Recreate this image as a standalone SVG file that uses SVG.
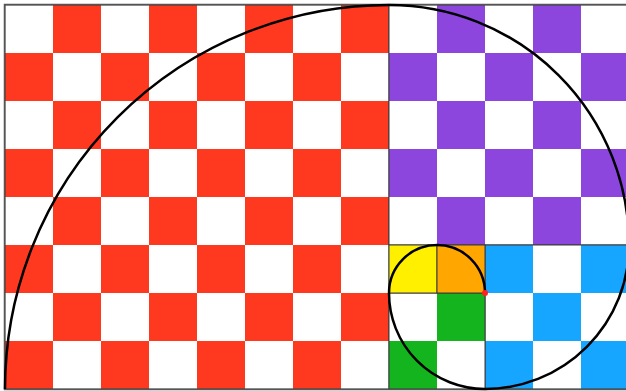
<svg xmlns="http://www.w3.org/2000/svg" width="626" height="391" viewBox="0 0 626 391">
  <defs>
    <pattern id="pRed" patternUnits="userSpaceOnUse" x="5" y="5" width="96" height="96">
      <rect width="96" height="96" fill="#ffffff"/>
      <rect x="48" y="0" width="48" height="48" fill="#ff3820"/>
      <rect x="0" y="48" width="48" height="48" fill="#ff3820"/>
    </pattern>
    <pattern id="pPurple" patternUnits="userSpaceOnUse" x="5" y="5" width="96" height="96">
      <rect width="96" height="96" fill="#ffffff"/>
      <rect x="48" y="0" width="48" height="48" fill="#8c46de"/>
      <rect x="0" y="48" width="48" height="48" fill="#8c46de"/>
    </pattern>
    <pattern id="pBlue" patternUnits="userSpaceOnUse" x="5" y="5" width="96" height="96">
      <rect width="96" height="96" fill="#ffffff"/>
      <rect x="48" y="0" width="48" height="48" fill="#17a6ff"/>
      <rect x="0" y="48" width="48" height="48" fill="#17a6ff"/>
    </pattern>
    <pattern id="pGreen" patternUnits="userSpaceOnUse" x="5" y="5" width="96" height="96">
      <rect width="96" height="96" fill="#ffffff"/>
      <rect x="48" y="0" width="48" height="48" fill="#14b41e"/>
      <rect x="0" y="48" width="48" height="48" fill="#14b41e"/>
    </pattern>
  </defs>
  <style>
    .sq { stroke: #3a3a3a; stroke-width: 1; }
    .spiral { fill: none; stroke: #000000; stroke-width: 2.5; }
  </style>
  <rect width="626" height="391" fill="#ffffff"/>
  <g id="red-square">
    <rect class="sq" x="5" y="5" width="384" height="384" fill="url(#pRed)"/>
  </g>
  <g id="purple-square">
    <rect class="sq" x="389" y="5" width="240" height="240" fill="url(#pPurple)"/>
  </g>
  <g id="blue-square">
    <rect class="sq" x="485" y="245" width="144" height="144" fill="url(#pBlue)"/>
  </g>
  <g id="green-square">
    <rect class="sq" x="389" y="293" width="96" height="96" fill="url(#pGreen)"/>
  </g>
  <g id="yellow-square">
    <rect class="sq" x="389" y="245" width="48" height="48" fill="#fff000"/>
  </g>
  <g id="orange-square">
    <rect class="sq" x="437" y="245" width="48" height="48" fill="#ffa600"/>
  </g>
  <rect x="4.5" y="4.5" width="630" height="385" fill="none" stroke="#555555" stroke-width="1.5"/>
  <g id="connectors">
    <path class="spiral" d="M 5 389 A 384 384 0 0 1 389 5 A 240 240 0 0 1 629 245 A 144 144 0 0 1 485 389 A 96 96 0 0 1 389 293 A 48 48 0 0 1 437 245 A 48 48 0 0 1 485 293"/>
    <circle cx="485" cy="293" r="3" fill="#ff2020"/>
  </g>
</svg>
